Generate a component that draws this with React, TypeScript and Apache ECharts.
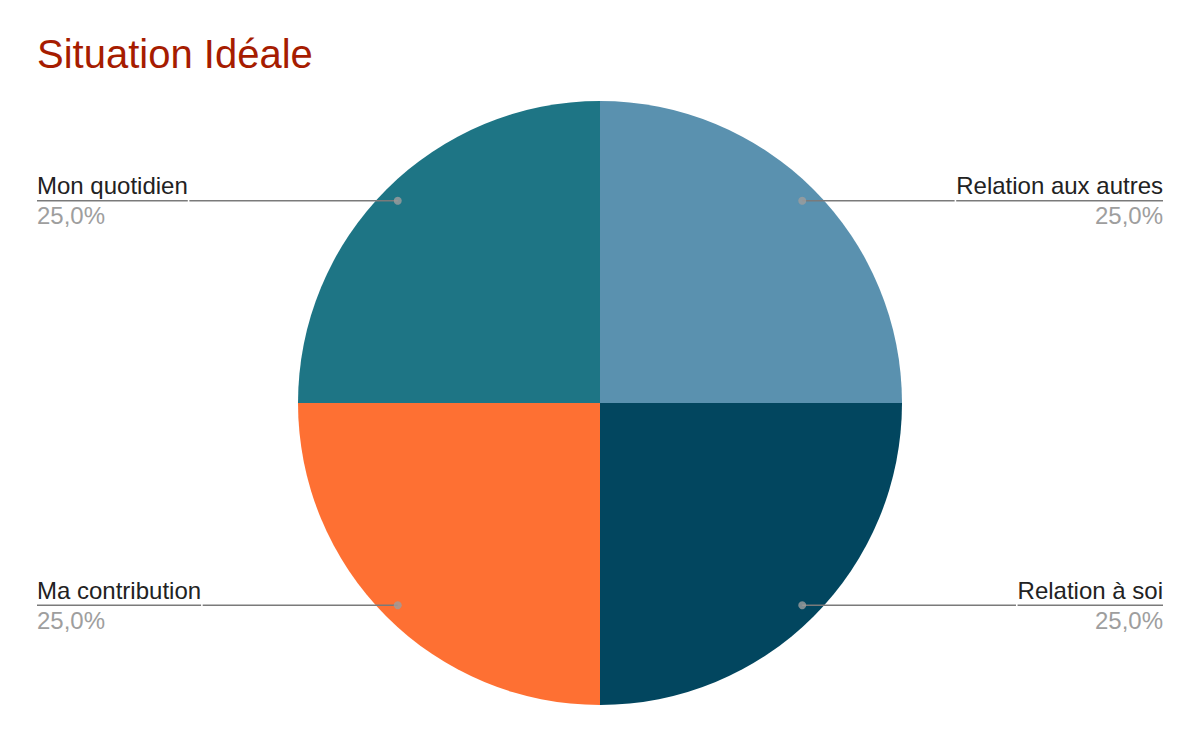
import React, { useEffect, useRef } from "react";
import * as echarts from "echarts";

const titleText = "Situation Idéale";
const categories = ["Relation aux autres", "Relation à soi", "Ma contribution", "Mon quotidien"];
const values = [25, 25, 25, 25];
const colors = ["#5a91af", "#02465f", "#fe7033", "#1e7585"];

const FONT = "'Liberation Sans', Arial, Helvetica, sans-serif";

export default function App() {
  const ref = useRef<HTMLDivElement>(null);

  useEffect(() => {
    if (!ref.current) return;
    const chart = echarts.init(ref.current, null, { renderer: "svg" });

    const total = values.reduce((a, b) => a + b, 0);
    const pct = values.map((v) => ((v / total) * 100).toFixed(1).replace(".", ",") + "%");
    let acc = 0;
    const mids = values.map((v) => {
      const m = acc + v / 2;
      acc += v;
      return m;
    });

    const R = 302;
    const labelR = 286;
    const center = [600, 403];

    const option = {
      animation: false,
      backgroundColor: "#ffffff",
      title: {
        text: titleText,
        left: 32,
        top: 29,
        textStyle: {
          color: "#a61c00",
          fontSize: 40,
          fontWeight: "normal",
          fontFamily: FONT,
        },
      },
      polar: { center, radius: R },
      angleAxis: {
        type: "value",
        min: 0,
        max: total,
        startAngle: 90,
        clockwise: true,
        show: false,
      },
      radiusAxis: { type: "value", min: 0, max: R, show: false },
      series: [
        {
          type: "pie",
          center,
          radius: R,
          startAngle: 90,
          clockwise: true,
          z: 1,
          silent: true,
          label: { show: false },
          labelLine: { show: false },
          itemStyle: { borderWidth: 0 },
          emphasis: { disabled: true },
          data: categories.map((name, i) => ({
            name,
            value: values[i],
            itemStyle: { color: colors[i] },
          })),
        },
        {
          type: "pie",
          center,
          radius: labelR,
          startAngle: 90,
          clockwise: true,
          z: 3,
          silent: true,
          emphasis: { disabled: true },
          itemStyle: { color: "rgba(0,0,0,0)", borderWidth: 0 },
          label: {
            show: true,
            position: "outside",
            alignTo: "edge",
            edgeDistance: 37,
            distanceToLabelLine: 0,
            formatter: (p: any) => `{name|${p.name}}\n{hr|}\n{per|${pct[p.dataIndex]}}`,
            rich: {
              name: {
                fontSize: 24,
                color: "#222222",
                fontFamily: FONT,
                lineHeight: 30,
              },
              hr: {
                borderColor: "#7a7a7a",
                width: "100%",
                borderWidth: 1.6,
                height: 0,
                lineHeight: 0,
              },
              per: {
                fontSize: 24,
                color: "#9e9e9e",
                fontFamily: FONT,
                lineHeight: 30,
              },
            },
          },
          labelLine: {
            show: true,
            length: 0,
            length2: 40,
            lineStyle: { color: "#7a7a7a", width: 1.6 },
          },
          data: categories.map((name, i) => ({ name, value: values[i] })),
        },
        {
          type: "scatter",
          coordinateSystem: "polar",
          z: 4,
          silent: true,
          symbol: "circle",
          symbolSize: 8,
          itemStyle: { color: "#9e9e9e" },
          data: mids.map((m) => [labelR, m]),
        },
      ],
    };

    chart.setOption(option as any);
    return () => chart.dispose();
  }, []);

  return (
    <div
      ref={ref}
      style={{ position: "fixed", left: 0, top: 0, width: 1200, height: 742 }}
    />
  );
}
